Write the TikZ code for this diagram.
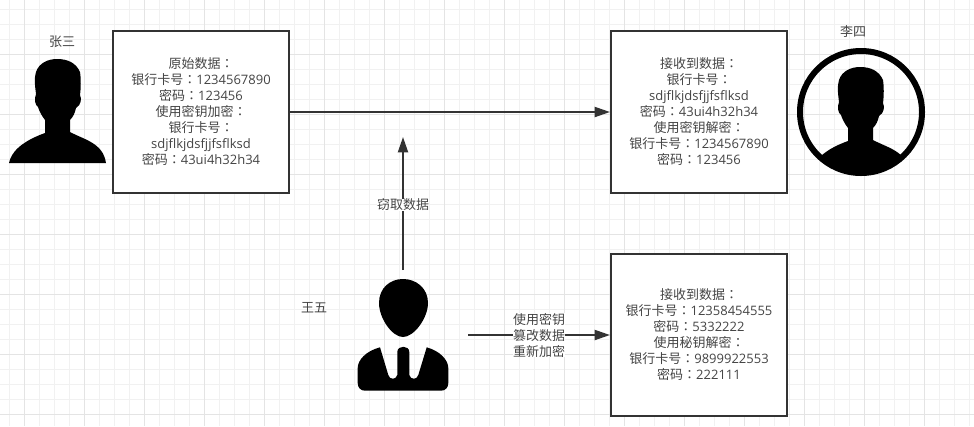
\documentclass[tikz,border=0pt]{standalone}
\usepackage{fontspec}
\setmainfont{Noto Sans CJK SC}
\newfontfamily\colonfont{Noto Sans CJK TC}
\newfontfamily\latinfont{Open Sans}
\newcommand{\cc}{{\colonfont ：}}
\newcommand{\lt}[1]{{\latinfont #1}}
\usetikzlibrary{positioning,arrows.meta}
\definecolor{inkgray}{HTML}{333333}
\definecolor{textgray}{HTML}{444444}
\definecolor{gridminor}{HTML}{F1F1F1}
\definecolor{gridmajor}{HTML}{E4E4E4}
\tikzset{
	databox/.style={draw=inkgray, line width=1.5pt, fill=white, minimum width=132pt, minimum height=121.5pt, align=center, text=textgray, font=\fontsize{9.75}{12}\selectfont, inner sep=0pt},
	namelabel/.style={text=textgray, font=\fontsize{9.75}{12}\selectfont, inner sep=0pt},
	edgelabel/.style={namelabel, align=center, fill=white},
	datalink/.style={draw=inkgray, line width=1.5pt, -{Triangle[length=11.5pt,width=7.5pt]}},
}
\newcommand{\personshape}{(9,163) .. controls (11,153) and (20,142) .. (45,133) -- (45,120) .. controls (41,115) and (39,110) .. (38,107) .. controls (35,105) and (34,99) .. (36,94) .. controls (35,86) and (34,78) .. (36,72) .. controls (39,63) and (48,59) .. (57,59) .. controls (68,59) and (76,63) .. (80,72) .. controls (81,78) and (81,88) .. (80,95) .. controls (82,99) and (81,105) .. (76,108) .. controls (75,113) and (73,117) .. (70,120) -- (70,132) .. controls (85,140) and (103,143) .. (106,163) -- cycle}
\begin{document}
\begin{tikzpicture}[x=0.75pt, y=-0.75pt]
	\useasboundingbox (0,0) rectangle (974,426);
	\fill[white] (0,0) rectangle (974,426);
	\foreach \gx in {9,24,...,969} {\draw[gridminor, line width=.75pt] (\gx,0) -- (\gx,426);}
	\foreach \gy in {9,24,...,424} {\draw[gridminor, line width=.75pt] (0,\gy) -- (974,\gy);}
	\foreach \gx in {24,84,...,969} {\draw[gridmajor, line width=.75pt] (\gx,0) -- (\gx,426);}
	\foreach \gy in {54,114,...,424} {\draw[gridmajor, line width=.75pt] (0,\gy) -- (974,\gy);}

	\fill \personshape;
	\begin{scope}
		\clip (861,112) circle (61);
		\begin{scope}[shift={(803,8)}]
			\fill \personshape;
			\fill (9,150) rectangle (106,180);
		\end{scope}
	\end{scope}
	\node[draw=black, line width=4.5pt, circle, minimum size=91.5pt, inner sep=0pt] (lisiring) at (861,112) {};
	\fill (403,279) .. controls (416,279) and (428,288) .. (428,303) .. controls (428,318) and (414,337) .. (403,337) .. controls (392,337) and (379,318) .. (379,303) .. controls (379,288) and (390,279) .. (403,279) -- cycle;
	\fill (380,347.3) -- (388.3,375) .. controls (389.5,380) and (396,380) .. (397.3,375) -- (397.3,352) .. controls (397.3,345) and (409.3,345) .. (409.3,352) -- (409.3,375) .. controls (410.5,380) and (417,380) .. (418.3,375) -- (426.7,347.3) .. controls (440,351) and (448.3,360) .. (448.3,368) -- (448.3,383) .. controls (448.3,388) and (445,390.7) .. (441,390.7) -- (365,390.7) .. controls (361,390.7) and (357.7,388) .. (357.7,383) -- (357.7,368) .. controls (357.7,360) and (366,351) .. (380,347.3) -- cycle;

	\node[namelabel] (zhangsan) at (62,42) {张三};
	\node[namelabel] (lisi) at (853,32) {李四};
	\node[namelabel] (wangwu) at (314,308) {王五};

	\node[databox] (origin) at (201,112) {原始数据\cc\\银行卡号\cc\lt{1234567890}\\密码\cc\lt{123456}\\使用密钥加密\cc\\银行卡号\cc\\\lt{sdjflkjdsfjjfsflksd}\\密码\cc\lt{43ui4h32h34}};
	\node[databox, right=240pt of origin] (received) {接收到数据\cc\\银行卡号\cc\\\lt{sdjflkjdsfjjfsflksd}\\密码\cc\lt{43ui4h32h34}\\使用密钥解密\cc\\银行卡号\cc\lt{1234567890}\\密码\cc\lt{123456}};
	\node[databox, below=44.25pt of received] (tampered) {接收到数据\cc\\银行卡号\cc\lt{12358454555}\\密码\cc\lt{5332222}\\使用秘钥解密\cc\\银行卡号\cc\lt{9899922553}\\密码\cc\lt{222111}};

	\coordinate (stealstart) at (403,270);
	\coordinate (stealend) at (403,137);
	\coordinate (tamperstart) at (468,335);
	\draw[datalink] (origin) -- (received);
	\draw[datalink] (stealstart) -- node[edgelabel, pos=.49] (steallabel) {窃取数据} (stealend);
	\draw[datalink] (tamperstart) -- (tampered.west |- tamperstart);
	\node[edgelabel] (tamperlabel) at (539,335) {使用密钥\\篡改数据\\重新加密};
\end{tikzpicture}
\end{document}
